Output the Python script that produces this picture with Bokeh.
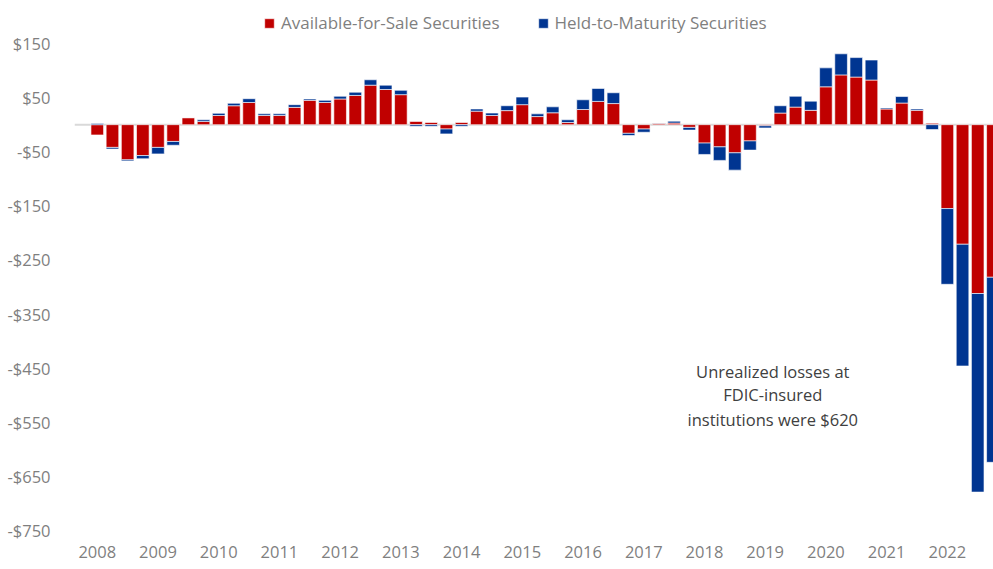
import numpy as np
from bokeh.plotting import figure
from bokeh.models import (Range1d, FixedTicker, Span, Legend, LegendItem, Label,
                          ColumnDataSource)
from bokeh.embed import file_html
from bokeh.resources import INLINE

# ---- data (USD billions, quarterly 2008Q1 .. 2022Q4) ----
quarters = [f"{y}Q{q}" for y in range(2008, 2023) for q in range(1, 5)]
afs = [-19, -42, -65, -57, -42, -31, 13, 6,
       17, 35, 41, 17, 17, 32, 45, 41,
       47.5, 54, 73, 65, 55.5, 6, 4, -8,
       4, 25, 17, 26, 37, 15, 22, 4,
       28, 43, 39, -16, -8, 2.5, 3, -5,
       -34, -41, -52, -30, -2, 21.5, 32.5, 26.5,
       70, 92, 88, 82.5, 29, 40, 26.5, 2.5,
       -155, -221, -312, -282]
htm = [2, -3, -2, -6, -12, -7, 0, 3,
       4, 4.5, 7, 3, 3, 5, 2.5, 4,
       5, 6, 10, 8, 8, -3, -3, -9,
       -3, 4, 4.5, 9, 14, 5, 11, 5,
       18, 24, 20, -4, -6, 0.5, 3.5, -5,
       -21, -25, -32, -17, -4, 13.5, 20, 17,
       35, 39, 36, 37, 2, 12, 2.5, -9,
       -140, -225, -367, -342]
year_labels = [str(y) for y in range(2008, 2023)]
y_ticks = [150, 50, -50, -150, -250, -350, -450, -550, -650, -750]
y_tick_labels = ["$150", "$50", "-$50", "-$150", "-$250", "-$350", "-$450",
                 "-$550", "-$650", "-$750"]
series_names = ["Available-for-Sale Securities", "Held-to-Maturity Securities"]
annotation_lines = ["Unrealized losses at", "FDIC-insured", "institutions were $620"]

RED = "#C00000"
BLUE = "#003591"
FONT = "Open Sans"

# ---- stacking (positives up, negatives down) ----
a = np.array(afs, dtype=float)
h = np.array(htm, dtype=float)
x = np.arange(len(quarters))
afs_bottom = np.zeros_like(a)
afs_top = a
htm_bottom = np.where(h >= 0, np.maximum(a, 0), np.minimum(a, 0))
htm_top = htm_bottom + h

src = ColumnDataSource(dict(x=x, afs_bottom=afs_bottom, afs_top=afs_top,
                            htm_bottom=htm_bottom, htm_top=htm_top))

p = figure(width=993, height=569, output_backend="svg", toolbar_location=None,
           x_range=Range1d(-1.5, 59.04), y_range=Range1d(-750, 229.5),
           min_border_left=74, min_border_right=0, min_border_top=0,
           min_border_bottom=39)
p.outline_line_color = None
p.xgrid.visible = False
p.ygrid.visible = False
p.background_fill_color = "white"

zero = Span(location=0, dimension="width", line_color="#D9D9D9",
            line_width=2, level="underlay")
p.add_layout(zero)

r1 = p.vbar(x="x", width=0.83, bottom="afs_bottom", top="afs_top", source=src,
            fill_color=RED, line_color="white", line_alpha=0.6, line_width=1)
r2 = p.vbar(x="x", width=0.83, bottom="htm_bottom", top="htm_top", source=src,
            fill_color=BLUE, line_color="white", line_alpha=0.6, line_width=1)

# x axis
xa = p.xaxis[0]
xa.ticker = FixedTicker(ticks=[i * 4 for i in range(len(year_labels))])
xa.major_label_overrides = {i * 4: lab for i, lab in enumerate(year_labels)}
xa.axis_line_color = None
xa.major_tick_line_color = None
xa.minor_tick_line_color = None
xa.major_tick_out = 0
xa.major_label_standoff = 15
xa.major_label_text_font = FONT
xa.major_label_text_font_size = "16.5px"
xa.major_label_text_color = "#7F7F7F"

# y axis
ya = p.yaxis[0]
ya.ticker = FixedTicker(ticks=y_ticks)
ya.major_label_overrides = {t: lab for t, lab in zip(y_ticks, y_tick_labels)}
ya.axis_line_color = None
ya.major_tick_line_color = None
ya.minor_tick_line_color = None
ya.major_tick_out = 0
ya.major_label_standoff = 24
ya.major_label_text_font = FONT
ya.major_label_text_font_size = "16.5px"
ya.major_label_text_color = "#7F7F7F"

legend = Legend(items=[LegendItem(label=series_names[0], renderers=[r1]),
                       LegendItem(label=series_names[1], renderers=[r2])],
                orientation="horizontal", location=(189, 496),
                glyph_width=12, glyph_height=12, label_standoff=6, spacing=37,
                padding=0, margin=0, border_line_color=None,
                background_fill_alpha=0, label_text_font=FONT,
                label_text_font_size="17px", label_text_color="#7F7F7F")
p.add_layout(legend)

for txt, yy in zip(annotation_lines, [-456, -499, -544]):
    p.add_layout(Label(x=44.5, y=yy, text=txt, text_align="center",
                       text_baseline="alphabetic", text_font=FONT,
                       text_font_size="16.5px", text_color="#404040"))

open("out.html", "w").write(file_html(p, INLINE))
